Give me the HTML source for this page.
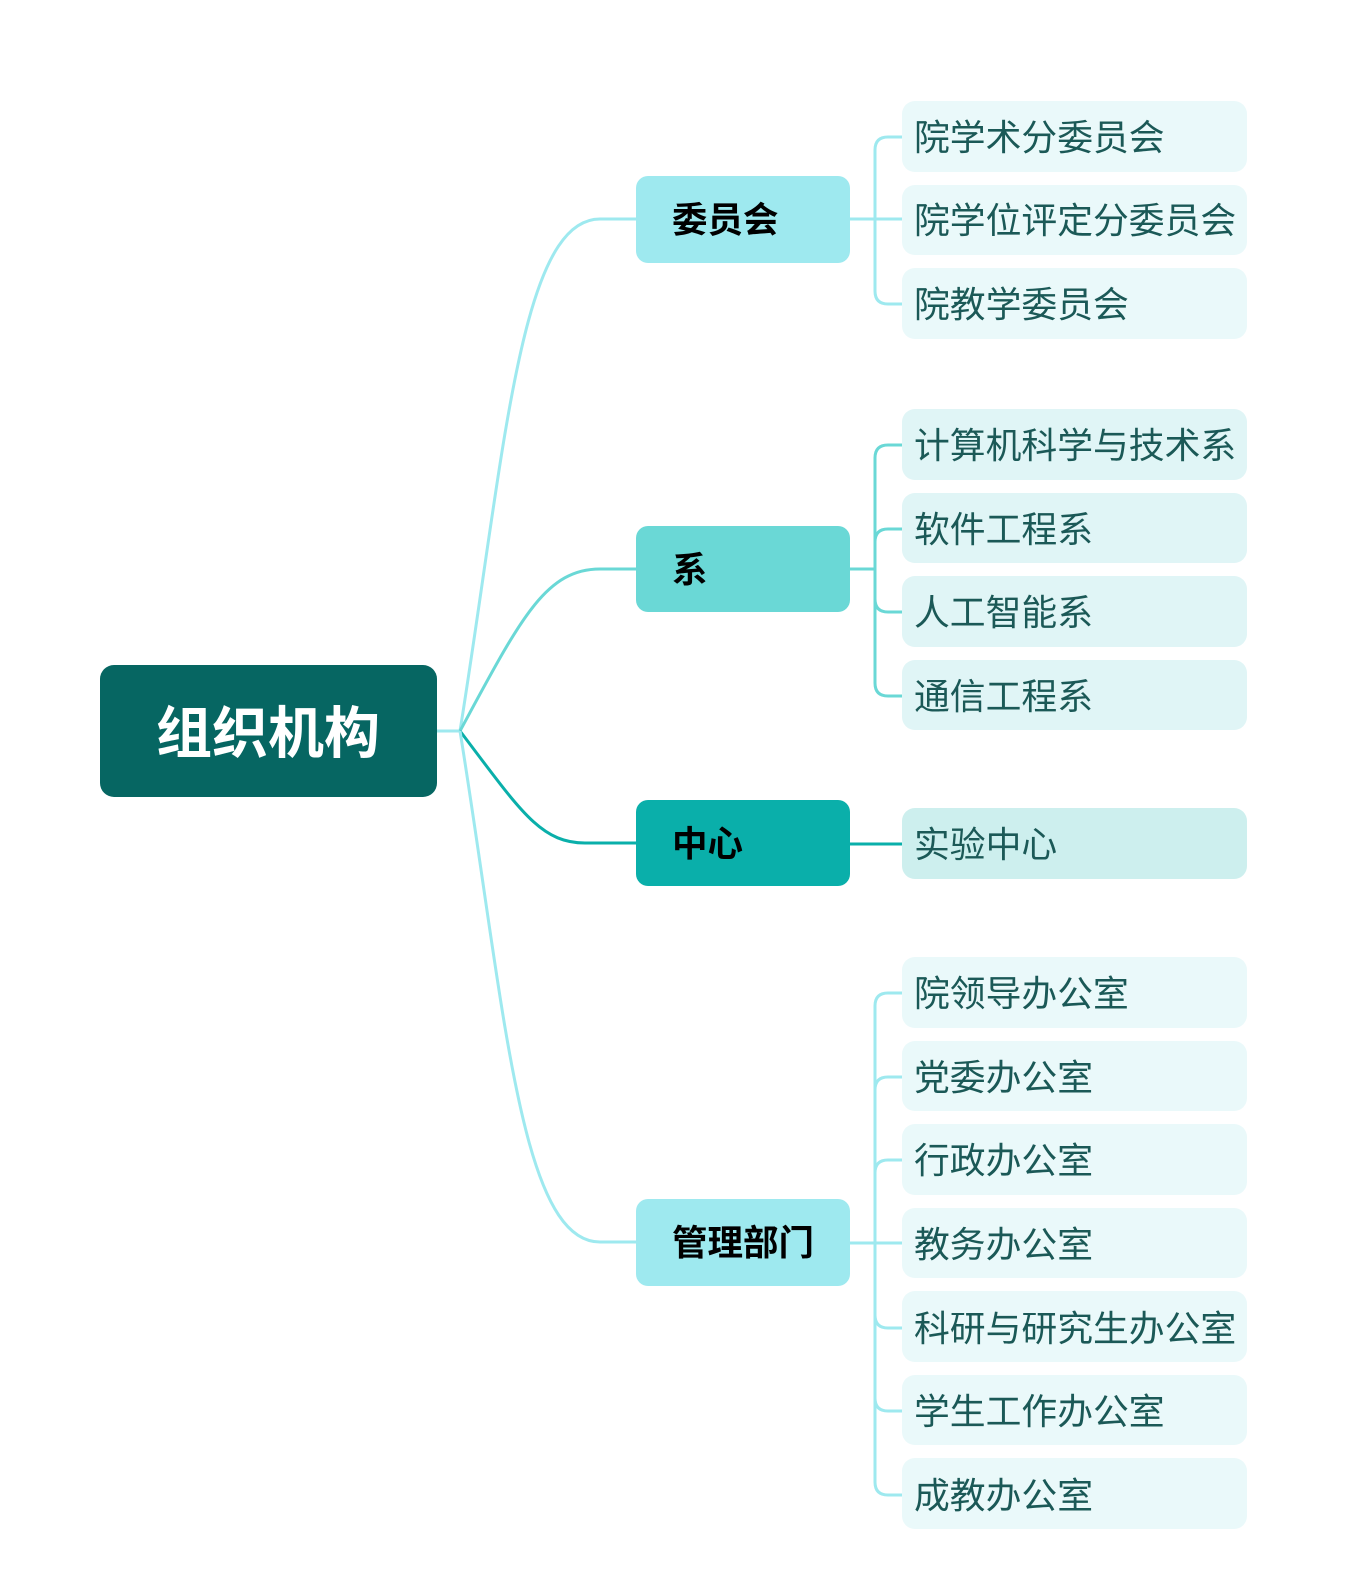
<!DOCTYPE html>
<html><head><meta charset="utf-8"><style>
html,body{margin:0;padding:0;background:#fff;}
svg{display:block;}
text{font-family:"Liberation Sans","Noto Sans CJK SC",sans-serif;}
</style></head><body>
<svg width="1356" height="1578" viewBox="0 0 1356 1578" xmlns="http://www.w3.org/2000/svg">
<g fill="none" stroke-width="3">
<path d="M437 731 H460" stroke="#9EE9EF"/>
<path d="M460 731 C505 450,520 219,600 219 H636" stroke="#9EE9EF"/>
<path d="M460 731 C520 620,545 569,600 569 H636" stroke="#6AD8D6"/>
<path d="M460 731 C520 810,540 843,585 843 H636" stroke="#0AAFAA"/>
<path d="M460 731 C505 1010,520 1242,600 1242 H636" stroke="#9EE9EF"/>
<g stroke="#9EE9EF">
<path d="M850 219 H902"/>
<path d="M902 137 H888 Q875 137 875 150 V291 Q875 304 888 304 H902"/>
</g>
<g stroke="#6AD8D6">
<path d="M850 569 H875"/>
<path d="M902 445 H888 Q875 445 875 458 V683 Q875 696 888 696 H902"/>
<path d="M875 542 Q875 529 888 529 H902"/>
<path d="M875 599 Q875 612 888 612 H902"/>
</g>
<path d="M850 844 H902" stroke="#0AAFAA"/>
<g stroke="#9EE9EF">
<path d="M850 1243 H902"/>
<path d="M902 993 H888 Q875 993 875 1006 V1482 Q875 1495 888 1495 H902"/>
<path d="M875 1090 Q875 1077 888 1077 H902"/>
<path d="M875 1173 Q875 1160 888 1160 H902"/>
<path d="M875 1315 Q875 1328 888 1328 H902"/>
<path d="M875 1398 Q875 1411 888 1411 H902"/>
</g>
</g>
<rect x="100" y="665" width="337" height="132" rx="14" fill="#066662"/>
<text x="268" y="753" font-size="56" font-weight="bold" fill="#fff" text-anchor="middle">组织机构</text>
<g font-size="35.5" font-weight="bold" fill="#000">
<rect x="636" y="176" width="214" height="87" rx="12" fill="#9EE9EF"/>
<text x="672" y="232">委员会</text>
<rect x="636" y="526" width="214" height="86" rx="12" fill="#6AD8D6"/>
<text x="672" y="582">系</text>
<rect x="636" y="800" width="214" height="86" rx="12" fill="#0AAFAA"/>
<text x="672" y="856">中心</text>
<rect x="636" y="1199" width="214" height="87" rx="12" fill="#9EE9EF"/>
<text x="672" y="1255">管理部门</text>
</g>
<g font-size="35.8" fill="#1B5957">
<rect x="902" y="101" width="345" height="71" rx="13" fill="#EAF9FA"/><text x="914" y="150">院学术分委员会</text>
<rect x="902" y="185" width="345" height="70" rx="13" fill="#EAF9FA"/><text x="914" y="233">院学位评定分委员会</text>
<rect x="902" y="268" width="345" height="71" rx="13" fill="#EAF9FA"/><text x="914" y="317">院教学委员会</text>
<rect x="902" y="409" width="345" height="71" rx="13" fill="#E0F5F6"/><text x="914" y="458">计算机科学与技术系</text>
<rect x="902" y="493" width="345" height="70" rx="13" fill="#E0F5F6"/><text x="914" y="542">软件工程系</text>
<rect x="902" y="576" width="345" height="71" rx="13" fill="#E0F5F6"/><text x="914" y="625">人工智能系</text>
<rect x="902" y="660" width="345" height="70" rx="13" fill="#E0F5F6"/><text x="914" y="709">通信工程系</text>
<rect x="902" y="808" width="345" height="71" rx="13" fill="#CDEFEE"/><text x="914" y="857">实验中心</text>
<rect x="902" y="957" width="345" height="71" rx="13" fill="#EAF9FA"/><text x="914" y="1006">院领导办公室</text>
<rect x="902" y="1041" width="345" height="70" rx="13" fill="#EAF9FA"/><text x="914" y="1090">党委办公室</text>
<rect x="902" y="1124" width="345" height="71" rx="13" fill="#EAF9FA"/><text x="914" y="1173">行政办公室</text>
<rect x="902" y="1208" width="345" height="70" rx="13" fill="#EAF9FA"/><text x="914" y="1257">教务办公室</text>
<rect x="902" y="1291" width="345" height="71" rx="13" fill="#EAF9FA"/><text x="914" y="1341">科研与研究生办公室</text>
<rect x="902" y="1375" width="345" height="70" rx="13" fill="#EAF9FA"/><text x="914" y="1424">学生工作办公室</text>
<rect x="902" y="1458" width="345" height="71" rx="13" fill="#EAF9FA"/><text x="914" y="1508">成教办公室</text>
</g>
</svg>
</body></html>
